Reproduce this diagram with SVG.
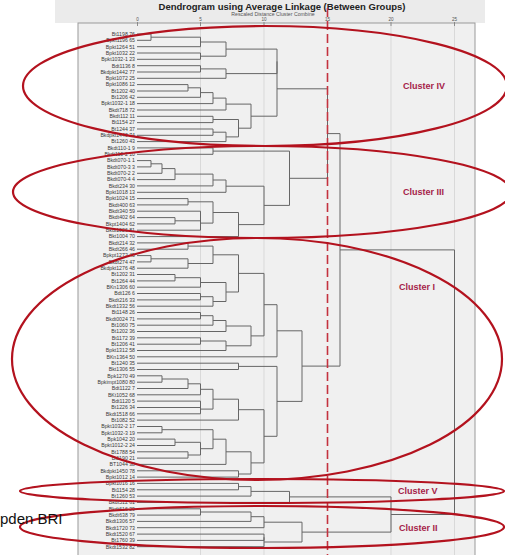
<svg xmlns="http://www.w3.org/2000/svg" width="505" height="555" viewBox="0 0 505 555">
<style>
  .leaf { font-family: "Liberation Sans", Arial, sans-serif; font-size: 5.2px; fill: #3a3a3a; text-anchor: end; }
  .tick { font-family: "Liberation Sans", Arial, sans-serif; font-size: 4.6px; fill: #555; text-anchor: middle; }
  .link { fill: none; stroke: #666; stroke-width: 1; }
  .grid { stroke: #d9d9d9; stroke-width: 1; }
  .ring { fill: none; stroke: #b3121e; stroke-width: 2.2; }
  .clabel { font-family: "Liberation Sans", Arial, sans-serif; font-size: 9px; font-weight: bold; fill: #a52249; }
</style>

<!-- canvas -->
<rect x="0" y="0" width="505" height="555" fill="#ffffff"/>
<rect x="55" y="0" width="430" height="23" fill="#ebebeb"/>

<!-- plot panel -->
<g id="panel">
  <rect x="78" y="23" width="397" height="540" fill="#f0f0f0" stroke="#9a9a9a" stroke-width="1"/>
  <line class="grid" x1="200.5" y1="24" x2="200.5" y2="555"/>
  <line class="grid" x1="264" y1="24" x2="264" y2="555"/>
  <line class="grid" x1="391" y1="24" x2="391" y2="555"/>
  <line class="grid" x1="454.5" y1="24" x2="454.5" y2="555"/>
</g>

<!-- title and axis -->
<g id="title">
  <text x="282" y="9.5" font-family="'Liberation Sans', Arial, sans-serif" font-size="9.5" font-weight="bold" fill="#222" text-anchor="middle">Dendrogram using Average Linkage (Between Groups)</text>
  <text x="273" y="15.5" font-family="'Liberation Sans', Arial, sans-serif" font-size="5.2" fill="#555" text-anchor="middle">Rescaled Distance Cluster Combine</text>
</g>
<g id="axis">
  <text class="tick" x="137.5" y="21">0</text>
  <text class="tick" x="200.5" y="21">5</text>
  <text class="tick" x="264" y="21">10</text>
  <text class="tick" x="327.5" y="21">15</text>
  <text class="tick" x="391" y="21">20</text>
  <text class="tick" x="454.5" y="21">25</text>
  <path d="M137.5 22V26M200.5 22V26M264 22V26M327.5 22V26M391 22V26M454.5 22V26" stroke="#777" stroke-width="0.8"/>
</g>

<!-- leaf labels -->
<g id="leaves">
  <g id="leaf-0"><text class="leaf" x="135" y="35.8">Bt1198 76</text></g>
  <g id="leaf-1"><text class="leaf" x="135" y="42.1">Bpkt1196 65</text></g>
  <g id="leaf-2"><text class="leaf" x="135" y="48.5">Bpkt1264 51</text></g>
  <g id="leaf-3"><text class="leaf" x="135" y="54.8">Bpkt1032 22</text></g>
  <g id="leaf-4"><text class="leaf" x="135" y="61.1">Bpkt1032-1 23</text></g>
  <g id="leaf-5"><text class="leaf" x="135" y="67.5">Bdt1136 8</text></g>
  <g id="leaf-6"><text class="leaf" x="135" y="73.8">Bkdpkt1442 77</text></g>
  <g id="leaf-7"><text class="leaf" x="135" y="80.1">Bpkt1072 25</text></g>
  <g id="leaf-8"><text class="leaf" x="135" y="86.4">Bpkt1086 12</text></g>
  <g id="leaf-9"><text class="leaf" x="135" y="92.8">Bt1202 40</text></g>
  <g id="leaf-10"><text class="leaf" x="135" y="99.1">Bt1206 42</text></g>
  <g id="leaf-11"><text class="leaf" x="135" y="105.4">Bpkt1032-1 18</text></g>
  <g id="leaf-12"><text class="leaf" x="135" y="111.8">Bkdt718 72</text></g>
  <g id="leaf-13"><text class="leaf" x="135" y="118.1">Bkdt112 11</text></g>
  <g id="leaf-14"><text class="leaf" x="135" y="124.4">Bt1154 27</text></g>
  <g id="leaf-15"><text class="leaf" x="135" y="130.8">Bt1244 37</text></g>
  <g id="leaf-16"><text class="leaf" x="135" y="137.1">Bkdpkt1440 74</text></g>
  <g id="leaf-17"><text class="leaf" x="135" y="143.4">Bt1260 43</text></g>
  <g id="leaf-18"><text class="leaf" x="135" y="149.7">Bkdt110-1 9</text></g>
  <g id="leaf-19"><text class="leaf" x="135" y="156.1">Bkdt110-2 10</text></g>
  <g id="leaf-20"><text class="leaf" x="135" y="162.4">Bkdt070-1 1</text></g>
  <g id="leaf-21"><text class="leaf" x="135" y="168.7">Bkdt070-3 3</text></g>
  <g id="leaf-22"><text class="leaf" x="135" y="175.1">Bkdt070-2 2</text></g>
  <g id="leaf-23"><text class="leaf" x="135" y="181.4">Bkdt070-4 4</text></g>
  <g id="leaf-24"><text class="leaf" x="135" y="187.7">Bkdt234 30</text></g>
  <g id="leaf-25"><text class="leaf" x="135" y="194.1">Bpkt1018 13</text></g>
  <g id="leaf-26"><text class="leaf" x="135" y="200.4">Bpkt1024 15</text></g>
  <g id="leaf-27"><text class="leaf" x="135" y="206.7">Bkdt400 63</text></g>
  <g id="leaf-28"><text class="leaf" x="135" y="213">Bkdt340 59</text></g>
  <g id="leaf-29"><text class="leaf" x="135" y="219.4">Bkdt402 64</text></g>
  <g id="leaf-30"><text class="leaf" x="135" y="225.7">Bkpt1404 62</text></g>
  <g id="leaf-31"><text class="leaf" x="135" y="232">Bkdt1026 81</text></g>
  <g id="leaf-32"><text class="leaf" x="135" y="238.4">Bkt1004 70</text></g>
  <g id="leaf-33"><text class="leaf" x="135" y="244.7">Bkdt214 32</text></g>
  <g id="leaf-34"><text class="leaf" x="135" y="251">Bkdt266 46</text></g>
  <g id="leaf-35"><text class="leaf" x="135" y="257.4">Bpkpt1272 45</text></g>
  <g id="leaf-36"><text class="leaf" x="135" y="263.7">Bkdt274 47</text></g>
  <g id="leaf-37"><text class="leaf" x="135" y="270">Bkdpkt1276 48</text></g>
  <g id="leaf-38"><text class="leaf" x="135" y="276.3">Bt1202 31</text></g>
  <g id="leaf-39"><text class="leaf" x="135" y="282.7">Bt1264 44</text></g>
  <g id="leaf-40"><text class="leaf" x="135" y="289">BKn1306 60</text></g>
  <g id="leaf-41"><text class="leaf" x="135" y="295.3">Bdt126 6</text></g>
  <g id="leaf-42"><text class="leaf" x="135" y="301.7">Bkdt216 33</text></g>
  <g id="leaf-43"><text class="leaf" x="135" y="308">Bkdt1332 56</text></g>
  <g id="leaf-44"><text class="leaf" x="135" y="314.3">Bt1148 26</text></g>
  <g id="leaf-45"><text class="leaf" x="135" y="320.7">Bkdt0024 71</text></g>
  <g id="leaf-46"><text class="leaf" x="135" y="327">Bt1060 75</text></g>
  <g id="leaf-47"><text class="leaf" x="135" y="333.3">Bt1202 36</text></g>
  <g id="leaf-48"><text class="leaf" x="135" y="339.6">Bt1172 39</text></g>
  <g id="leaf-49"><text class="leaf" x="135" y="346">Bt1206 41</text></g>
  <g id="leaf-50"><text class="leaf" x="135" y="352.3">Bpkt1312 58</text></g>
  <g id="leaf-51"><text class="leaf" x="135" y="358.6">BKn1364 50</text></g>
  <g id="leaf-52"><text class="leaf" x="135" y="365">Bt1240 35</text></g>
  <g id="leaf-53"><text class="leaf" x="135" y="371.3">Bkt1306 55</text></g>
  <g id="leaf-54"><text class="leaf" x="135" y="377.6">Bpk1270 49</text></g>
  <g id="leaf-55"><text class="leaf" x="135" y="384">Bpkimpt1080 80</text></g>
  <g id="leaf-56"><text class="leaf" x="135" y="390.3">Bdt1122 7</text></g>
  <g id="leaf-57"><text class="leaf" x="135" y="396.6">BKt1052 68</text></g>
  <g id="leaf-58"><text class="leaf" x="135" y="402.9">Bdt1120 5</text></g>
  <g id="leaf-59"><text class="leaf" x="135" y="409.3">Bt1226 34</text></g>
  <g id="leaf-60"><text class="leaf" x="135" y="415.6">Bkdt1518 66</text></g>
  <g id="leaf-61"><text class="leaf" x="135" y="421.9">Bt1082 52</text></g>
  <g id="leaf-62"><text class="leaf" x="135" y="428.3">Bpkt1032-2 17</text></g>
  <g id="leaf-63"><text class="leaf" x="135" y="434.6">Bpkt1032-3 19</text></g>
  <g id="leaf-64"><text class="leaf" x="135" y="440.9">Bpk1042 20</text></g>
  <g id="leaf-65"><text class="leaf" x="135" y="447.3">Bpkt1012-2 24</text></g>
  <g id="leaf-66"><text class="leaf" x="135" y="453.6">Bt1788 54</text></g>
  <g id="leaf-67"><text class="leaf" x="135" y="459.9">Bt1190 21</text></g>
  <g id="leaf-68"><text class="leaf" x="135" y="466.2">BT1044 38</text></g>
  <g id="leaf-69"><text class="leaf" x="135" y="472.6">Bkdpkt1450 78</text></g>
  <g id="leaf-70"><text class="leaf" x="135" y="478.9">Bpkt1012 14</text></g>
  <g id="leaf-71"><text class="leaf" x="135" y="485.2">Bpkt1016 16</text></g>
  <g id="leaf-72"><text class="leaf" x="135" y="491.6">Bt1154 28</text></g>
  <g id="leaf-73"><text class="leaf" x="135" y="497.9">Bt1260 53</text></g>
  <g id="leaf-74"><text class="leaf" x="135" y="504.2">Bkdt512 61</text></g>
  <g id="leaf-75"><text class="leaf" x="135" y="510.6">Bkdt616 29</text></g>
  <g id="leaf-76"><text class="leaf" x="135" y="516.9">Bkdt638 79</text></g>
  <g id="leaf-77"><text class="leaf" x="135" y="523.2">Bkdt1306 57</text></g>
  <g id="leaf-78"><text class="leaf" x="135" y="529.5">Bkdt1720 73</text></g>
  <g id="leaf-79"><text class="leaf" x="135" y="535.9">Bkdt1520 67</text></g>
  <g id="leaf-80"><text class="leaf" x="135" y="542.2">Bt1760 39</text></g>
  <g id="leaf-81"><text class="leaf" x="135" y="548.5">Bkdt1532 82</text></g>
</g>

<!-- dendrogram links: each path is one merge bracket -->
<g id="connectors" class="link">
  <!-- group IV -->
  <path d="M137 34H151V40.3H137"/>
  <path d="M151 37.2H200.5V46.7H137"/>
  <path d="M137 53H200.5V59.3H137"/>
  <path d="M200.5 42H226V56.2H200.5"/>
  <path d="M137 65.7H200.5V72H137"/>
  <path d="M200.5 68.9H226V78.3H137"/>
  <path d="M226 49.1H277V73.6H226"/>
  <path d="M137 84.6H188V91H137"/>
  <path d="M188 87.8H200.5V97.3H137"/>
  <path d="M200.5 92.6H213V103.6H137"/>
  <path d="M213 98.1H226V110H137"/>
  <path d="M137 116.3H213V122.6H137"/>
  <path d="M137 129H213V135.3H137"/>
  <path d="M213 132.2H226V141.6H137"/>
  <path d="M213 119.5H238.5V136.9H226"/>
  <path d="M226 104.1H251V128.2H238.5"/>
  <path d="M277 61.4V116.2H251"/>
  <!-- group III -->
  <path d="M137 147.9H213V154.3H137"/>
  <path d="M137 160.6H151V166.9H137"/>
  <path d="M151 163.8H162V173.3H137"/>
  <path d="M162 168.6H175V179.6H137"/>
  <path d="M175 174.1H213V185.9H137"/>
  <path d="M213 180H226V192.3H137"/>
  <path d="M137 198.6H188V204.9H137"/>
  <path d="M137 217.6H175V223.9H137"/>
  <path d="M137 211.2H200.5V220.8H175"/>
  <path d="M200.5 216V230.2H137"/>
  <path d="M188 201.8H213V223.1H200.5"/>
  <path d="M213 212.5H238.5V236.6H137"/>
  <path d="M226 186.2H264V224.6H238.5"/>
  <path d="M213 151.1H289.5V205.4H264"/>
  <path d="M277 88.8H327.5V178.3H289.5"/>
  <!-- group I -->
  <path d="M137 242.9H188V249.2H137"/>
  <path d="M137 255.6H151V261.9H137"/>
  <path d="M151 258.8H188V268.2H137"/>
  <path d="M188 246.1H213V263.5H188"/>
  <path d="M137 274.5H175V280.9H137"/>
  <path d="M175 277.7H200.5V287.2H137"/>
  <path d="M137 293.5H200.5V299.9H137"/>
  <path d="M200.5 296.7H213V306.2H137"/>
  <path d="M200.5 282.5H226V301.5H213"/>
  <path d="M213 254.8H238.5V292H226"/>
  <path d="M137 312.5H200.5V318.9H137"/>
  <path d="M200.5 315.7H213V325.2H137"/>
  <path d="M213 320.5H226V331.5H137"/>
  <path d="M137 337.8H200.5V344.2H137"/>
  <path d="M200.5 341H226V350.5H137"/>
  <path d="M226 326H251V345.8H226"/>
  <path d="M238.5 273.4H264V335.9H251"/>
  <path d="M264 304.7H277V356.8H137"/>
  <path d="M137 363.2H238.5V369.5H137"/>
  <path d="M137 375.8H162V382.2H137"/>
  <path d="M162 379H188V388.5H137"/>
  <path d="M188 383.8H200.5V394.8H137"/>
  <path d="M137 401.1H200.5V407.5H137"/>
  <path d="M200.5 404.3V413.8H137"/>
  <path d="M200.5 389.3H213V409.1H200.5"/>
  <path d="M213 399.2H238.5V420.1H137"/>
  <path d="M137 426.5H162V432.8H137"/>
  <path d="M137 439.1H175V445.5H137"/>
  <path d="M137 451.8H188V458.1H137"/>
  <path d="M175 442.3H200.5V455H188"/>
  <path d="M162 429.7H213V448.7H200.5"/>
  <path d="M213 439.2H226V464.4H137"/>
  <path d="M137 470.8H238.5V477.1H137"/>
  <path d="M226 451.8H251V474H238.5"/>
  <path d="M238.5 409.7H264V462.9H251"/>
  <path d="M238.5 366.4H277V436.3H264"/>
  <path d="M277 330.8H302V401.4H277"/>
  <path d="M327.5 133.6H340V366.1H302"/>
  <!-- group V -->
  <path d="M137 483.4H238.5V489.8H137"/>
  <path d="M238.5 486.6H251V496.1H137"/>
  <path d="M251 491.4H289.5V502.4H137"/>
  <!-- group II -->
  <path d="M137 508.8H200.5V515.1H137"/>
  <path d="M200.5 512H251V521.4H137"/>
  <path d="M251 516.7H264V527.7H137"/>
  <path d="M137 534.1H264V540.4H137"/>
  <path d="M264 537.3V546.7H137"/>
  <path d="M264 522.2H302V542H264"/>
  <!-- upper joins -->
  <path d="M289.5 496.9H391V532.1H302"/>
  <path d="M340 249.9H454.5V514.5H391"/>
</g>

<!-- cut level -->
<line id="cut-line" x1="327.5" y1="8" x2="327.5" y2="555" stroke="#c4323f" stroke-width="1.6" stroke-dasharray="9 4"/>

<!-- cluster outlines -->
<g id="cluster-iv">
  <ellipse class="ring" cx="265" cy="86" rx="242" ry="60"/>
  <text class="clabel" x="403" y="89">Cluster IV</text>
</g>
<g id="cluster-iii">
  <ellipse class="ring" cx="262" cy="192" rx="249" ry="46"/>
  <text class="clabel" x="403" y="195">Cluster III</text>
</g>
<g id="cluster-i">
  <ellipse class="ring" cx="257" cy="359" rx="245" ry="121"/>
  <text class="clabel" x="399" y="290" font-weight="normal">Cluster I</text>
</g>
<g id="cluster-v">
  <ellipse class="ring" cx="262" cy="491" rx="242" ry="12"/>
  <text class="clabel" x="398" y="494">Cluster V</text>
</g>
<g id="cluster-ii">
  <ellipse class="ring" cx="262" cy="527" rx="242" ry="21"/>
  <text class="clabel" x="399" y="531">Cluster II</text>
</g>

<text x="0" y="524" font-family="'Liberation Sans', Arial, sans-serif" font-size="15" fill="#111">pden BRI</text>
</svg>
